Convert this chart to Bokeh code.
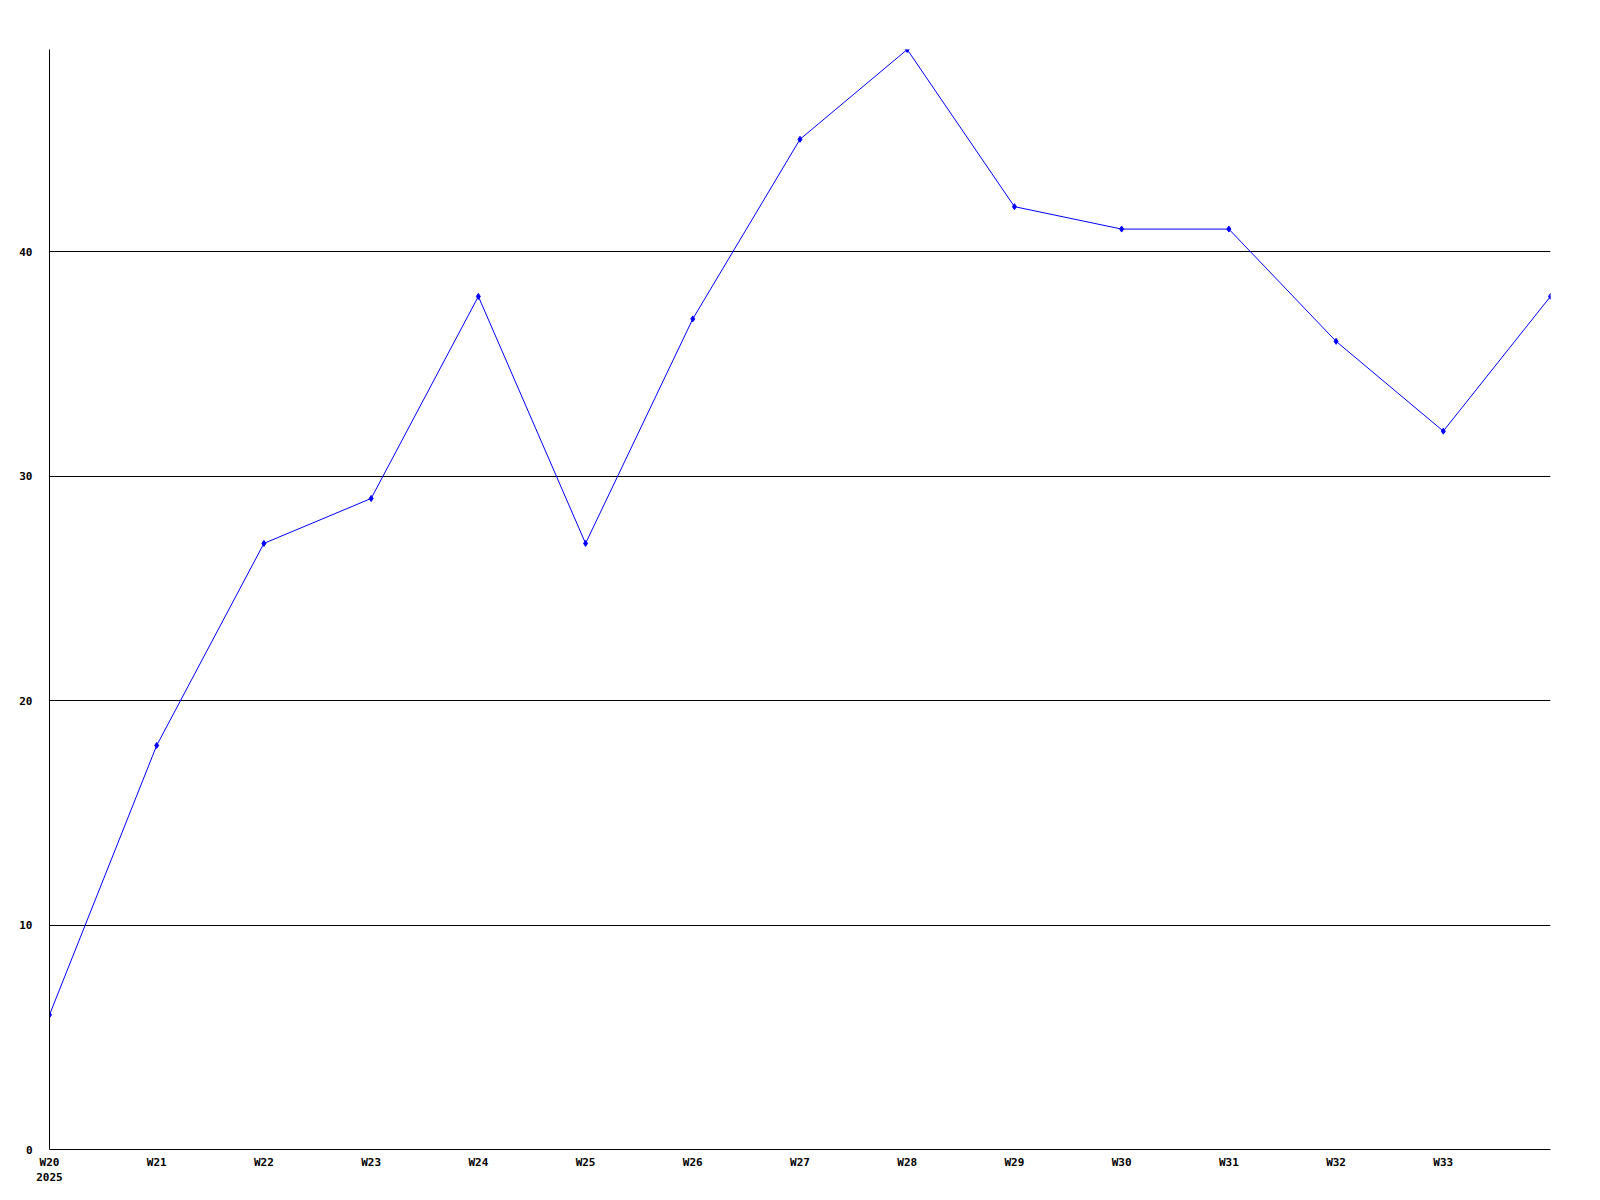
from bokeh.plotting import figure
from bokeh.models import FixedTicker, Range1d
from bokeh.embed import file_html
from bokeh.resources import INLINE

weeks = ["W20", "W21", "W22", "W23", "W24", "W25", "W26", "W27", "W28", "W29", "W30", "W31", "W32", "W33", "W34"]
values = [6, 18, 27, 29, 38, 27, 37, 45, 49, 42, 41, 41, 36, 32, 38]
x_tick_labels = ["W20\n2025", "W21", "W22", "W23", "W24", "W25", "W26", "W27", "W28", "W29", "W30", "W31", "W32", "W33"]
y_ticks = [0, 10, 20, 30, 40]

xs = list(range(len(weeks)))

p = figure(output_backend="svg", toolbar_location=None,
           frame_width=1501, frame_height=1100,
           min_border_left=49, min_border_top=49, min_border_right=30, min_border_bottom=40,
           x_range=Range1d(0, len(weeks) - 1), y_range=Range1d(0, 49))
p.outline_line_color = None
p.background_fill_color = "white"

p.line(xs, values, line_color="#0000ff", line_width=1)
p.scatter(xs, values, marker="diamond", size=6, color="#0000ff")

p.xaxis.ticker = FixedTicker(ticks=list(range(len(x_tick_labels))))
p.xaxis.major_label_overrides = {i: lab for i, lab in enumerate(x_tick_labels)}
p.yaxis.ticker = FixedTicker(ticks=y_ticks)

for ax in (p.xaxis[0], p.yaxis[0]):
    ax.major_tick_in = 0
    ax.major_tick_out = 0
    ax.minor_tick_in = 0
    ax.minor_tick_out = 0
    ax.axis_line_color = "black"
    ax.axis_line_width = 1
    ax.major_label_text_font = "DejaVu Sans Mono"
    ax.major_label_text_font_style = "bold"
    ax.major_label_text_font_size = "11px"
    ax.major_label_text_color = "black"

p.yaxis.major_label_standoff = 17
p.xaxis.major_label_standoff = 6

p.xgrid.grid_line_color = None
p.ygrid.grid_line_color = "black"
p.ygrid.grid_line_width = 1

open("out.html", "w").write(file_html(p, INLINE))
